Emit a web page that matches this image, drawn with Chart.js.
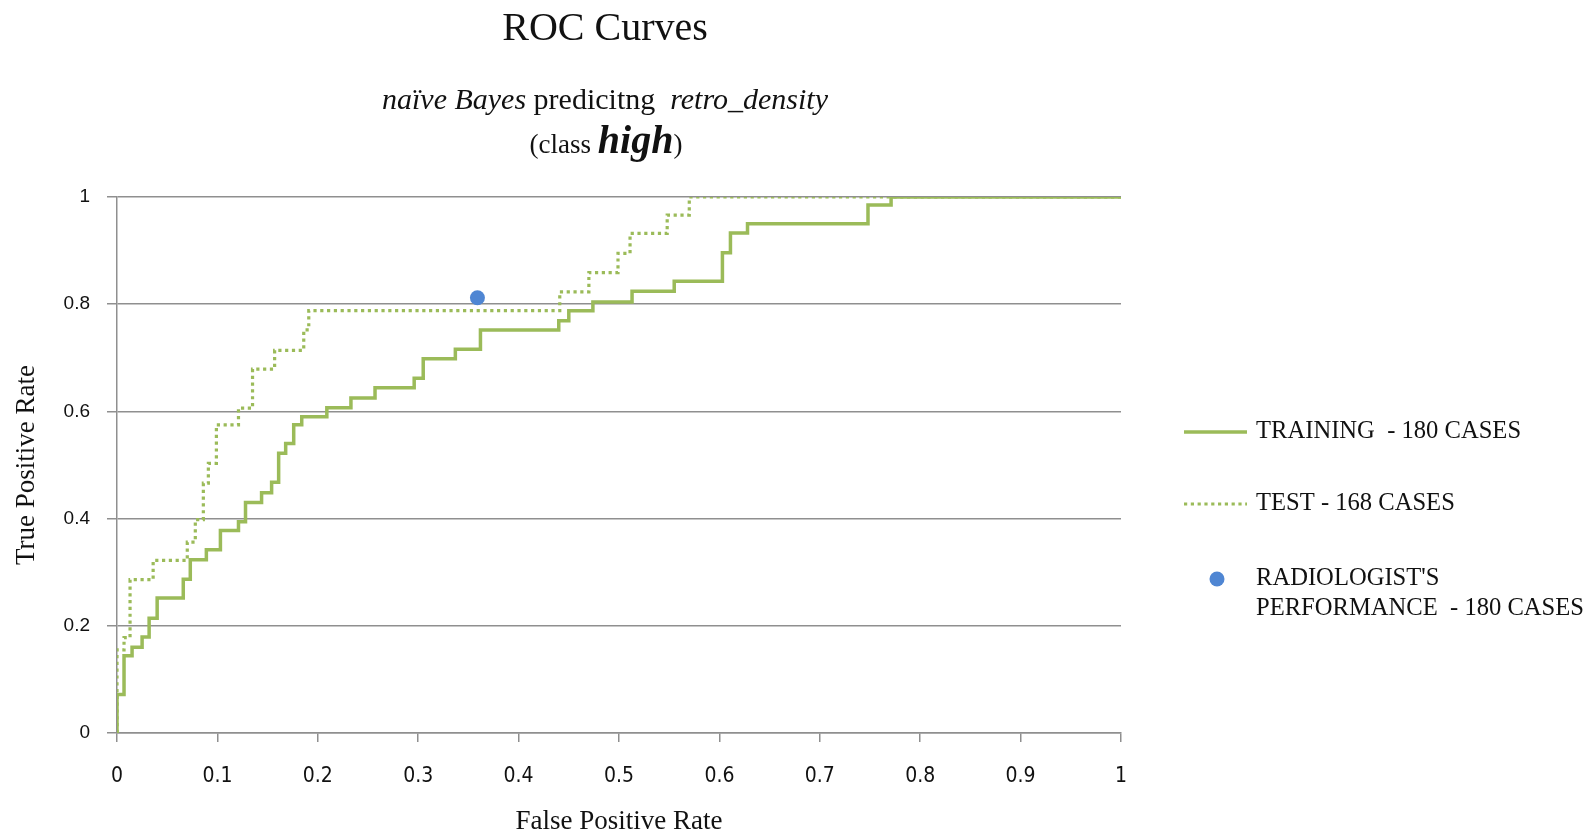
<!DOCTYPE html>
<html>
<head>
<meta charset="utf-8">
<script src="https://cdn.jsdelivr.net/npm/chart.js@4.4.1/dist/chart.umd.min.js"></script>
<style>
  html, body { margin: 0; padding: 0; background: #ffffff; }
  #wrap { width: 1589px; height: 838px; position: relative; }
</style>
</head>
<body>
<div id="wrap"><canvas id="c" width="1589" height="838"></canvas></div>
<script>
// ---- data ----
const trainFPR = [0, 0, 0.007, 0.015, 0.025, 0.032, 0.040, 0.066, 0.073, 0.089,
                  0.103, 0.121, 0.128, 0.144, 0.154, 0.161, 0.168, 0.176, 0.184, 0.209,
                  0.233, 0.257, 0.296, 0.305, 0.337, 0.362, 0.440, 0.450, 0.474, 0.513,
                  0.555, 0.603, 0.611, 0.628, 0.748, 0.771, 1];
const trainTPR = [0, 0.072, 0.144, 0.160, 0.179, 0.214, 0.252, 0.287, 0.323, 0.342,
                  0.378, 0.394, 0.430, 0.448, 0.468, 0.522, 0.540, 0.575, 0.590, 0.607,
                  0.625, 0.644, 0.662, 0.698, 0.716, 0.752, 0.769, 0.788, 0.804, 0.824,
                  0.843, 0.896, 0.933, 0.950, 0.985, 1, 1];
const testFPR = [0, 0, 0.007, 0.013, 0.036, 0.070, 0.078, 0.086, 0.091, 0.099, 0.121,
                 0.135, 0.157, 0.186, 0.191, 0.441, 0.470, 0.499, 0.511, 0.548, 0.570, 1];
const testTPR = [0, 0.155, 0.178, 0.286, 0.322, 0.356, 0.398, 0.466, 0.503, 0.575, 0.606,
                 0.679, 0.714, 0.752, 0.788, 0.823, 0.859, 0.895, 0.932, 0.966, 1, 1];
const radFPR = [0.359];
const radTPR = [0.812];

const seriesLabels = ['TRAINING  - 180 CASES', 'TEST - 168 CASES', "RADIOLOGIST'S\nPERFORMANCE  - 180 CASES"];
const xTickLabels = ['0', '0.1', '0.2', '0.3', '0.4', '0.5', '0.6', '0.7', '0.8', '0.9', '1'];
const yTickLabels = ['0', '0.2', '0.4', '0.6', '0.8', '1'];
const titleText = 'ROC Curves';
const subtitle1 = [['naïve Bayes', 'italic'], [' predicitng  ', 'normal'], ['retro_density', 'italic']];
const subtitle2 = [['(class ', 'normal'], ['high', 'boldItalic'], [')', 'normal']];
const xAxisTitle = 'False Positive Rate';
const yAxisTitle = 'True Positive Rate';

const GREEN = '#9bbb59';
const BLUE = '#4f86d3';
const GRID = '#8f8f8f';
const SERIF = "'Liberation Serif', 'Times New Roman', serif";

function pts(xs, ys) { return xs.map((x, i) => ({ x: x, y: ys[i] })); }

// ---- titles drawn on the canvas with mixed styles ----
const titlePlugin = {
  id: 'mixedTitles',
  afterDraw(chart) {
    const ctx = chart.ctx;
    ctx.save();
    ctx.fillStyle = '#111';
    ctx.textBaseline = 'alphabetic';
    ctx.textAlign = 'left';
    ctx.font = '40px ' + SERIF;
    let w = ctx.measureText(titleText).width;
    ctx.fillText(titleText, 605 - w / 2, 40);

    function line(parts, fonts, cx, baseY) {
      let total = 0;
      parts.forEach(p => { ctx.font = fonts[p[1]]; total += ctx.measureText(p[0]).width; });
      let x = cx - total / 2;
      parts.forEach(p => { ctx.font = fonts[p[1]]; ctx.fillText(p[0], x, baseY); x += ctx.measureText(p[0]).width; });
    }
    line(subtitle1, { italic: 'italic 30px ' + SERIF, normal: '30px ' + SERIF }, 605, 109);
    line(subtitle2, { normal: '27px ' + SERIF, boldItalic: 'italic bold 40px ' + SERIF }, 606, 153);
    ctx.restore();
  }
};

// ---- legend drawn at the right ----
const legendPlugin = {
  id: 'sideLegend',
  afterDraw(chart) {
    const ctx = chart.ctx;
    const rows = [432, 504, 579];
    ctx.save();
    ctx.font = '24.6px ' + SERIF;
    ctx.fillStyle = '#111';
    ctx.textBaseline = 'middle';
    ctx.textAlign = 'left';
    chart.data.datasets.forEach((ds, i) => {
      const y = rows[i];
      if (i === 2) {
        ctx.beginPath();
        ctx.fillStyle = ds.backgroundColor;
        ctx.arc(1217, y, 7.5, 0, Math.PI * 2);
        ctx.fill();
      } else {
        ctx.beginPath();
        ctx.strokeStyle = ds.borderColor;
        ctx.lineWidth = ds.borderWidth;
        ctx.setLineDash(ds.borderDash || []);
        ctx.moveTo(1184, y);
        ctx.lineTo(1247, y);
        ctx.stroke();
        ctx.setLineDash([]);
      }
      ctx.fillStyle = '#111';
      const parts = ds.label.split('\n');
      parts.forEach((t, k) => ctx.fillText(t, 1256, y + k * 30));
    });
    ctx.restore();
  }
};

new Chart(document.getElementById('c'), {
  type: 'line',
  data: {
    datasets: [
      {
        label: seriesLabels[0],
        data: pts(trainFPR, trainTPR),
        borderColor: GREEN,
        backgroundColor: GREEN,
        borderWidth: 3.5,
        stepped: 'before',
        pointRadius: 0,
        fill: false,
        order: 2
      },
      {
        label: seriesLabels[1],
        data: pts(testFPR, testTPR),
        borderColor: GREEN,
        backgroundColor: GREEN,
        borderWidth: 3.2,
        borderDash: [3.2, 3.6],
        stepped: 'before',
        pointRadius: 0,
        fill: false,
        order: 3
      },
      {
        label: seriesLabels[2],
        data: pts(radFPR, radTPR),
        showLine: false,
        borderColor: BLUE,
        backgroundColor: BLUE,
        pointRadius: 7.5,
        pointBorderWidth: 0,
        order: 1
      }
    ]
  },
  options: {
    responsive: false,
    animation: false,
    devicePixelRatio: 1,
    layout: { padding: { top: 197, left: 0, right: 468, bottom: 0 } },
    plugins: {
      legend: { display: false },
      title: { display: false },
      tooltip: { enabled: false }
    },
    scales: {
      x: {
        type: 'linear',
        min: 0, max: 1,
        afterFit(scale) { scale.height = 105; },
        afterBuildTicks(scale) { scale.ticks = xTickLabels.map(v => ({ value: parseFloat(v) })); },
        ticks: {
          callback: (v, i) => xTickLabels[i],
          color: '#111',
          padding: 22,
          maxRotation: 0,
          font: { family: "'Liberation Sans Narrow', 'DejaVu Sans Condensed', 'Liberation Sans', sans-serif", size: 21 }
        },
        grid: { drawOnChartArea: false, drawTicks: true, tickLength: 9, color: GRID, lineWidth: 1.5 },
        border: { display: true, color: GRID, width: 1.5 },
        title: {
          display: true, text: xAxisTitle, color: '#111',
          font: { family: SERIF, size: 27 },
          padding: { top: 0, bottom: 0 }
        }
      },
      y: {
        type: 'linear',
        min: 0, max: 1,
        afterFit(scale) { scale.width = 117; },
        afterBuildTicks(scale) { scale.ticks = yTickLabels.map(v => ({ value: parseFloat(v) })); },
        ticks: {
          callback: (v, i) => yTickLabels[i],
          color: '#111',
          padding: 17,
          font: { family: "'Liberation Sans', Arial, sans-serif", size: 19 }
        },
        grid: { drawOnChartArea: true, drawTicks: true, tickLength: 10, color: GRID, lineWidth: 1.5 },
        border: { display: true, color: GRID, width: 1.5 },
        title: {
          display: true, text: yAxisTitle, color: '#111',
          font: { family: SERIF, size: 27 },
          padding: { top: 11, bottom: 0 }
        }
      }
    }
  },
  plugins: [titlePlugin, legendPlugin]
});
</script>
</body>
</html>
